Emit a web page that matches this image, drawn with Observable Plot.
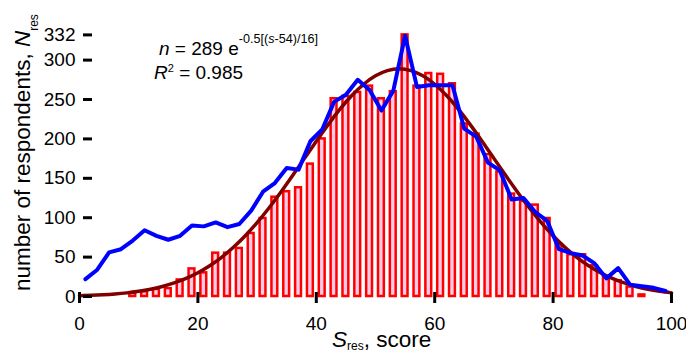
<!DOCTYPE html>
<html>
<head>
<meta charset="utf-8">
<script src="https://cdn.jsdelivr.net/npm/d3@7"></script>
<script src="https://cdn.jsdelivr.net/npm/@observablehq/plot@0.6"></script>
<style>
html, body { margin: 0; padding: 0; background: #fff; }
#chart { width: 686px; height: 350px; }
</style>
</head>
<body>
<div id="chart"></div>
<script>
// Histogram bins (centre score) and counts
const barScores = [9,11,13,15,17,19,21,23,25,27,29,31,33,35,37,39,41,43,45,47,49,51,53,55,57,59,61,63,65,67,69,71,73,75,77,79,81,83,85,87,89,91,93,95];
const barCounts = [4,6,9,10,21,35,30,55,55,61,80,99,126,133,138,168,200,251,254,259,267,251,260,332,267,283,282,270,219,206,180,158,130,121,116,99,66,53,53,39,25,20,12,2];

// Blue line (respondents)
const lineScores = [1,3,5,7,9,11,13,15,17,19,21,23,25,27,29,31,33,35,37,39,41,43,45,47,49,51,53,55,57,59,61,63,65,67,69,71,73,75,77,79,81,83,85,87,89,91,93,95,97,99];
const lineCounts = [22,34,56,60,71,84,77,72,77,90,89,94,88,92,109,133,144,163,161,197,212,247,256,275,262,236,261,331,266,268,268,268,213,203,170,160,123,125,107,96,60,55,52,42,23,36,15,13,11,7];

// Fitted curve, values
const fitScores = [0,2,4,6,8,10,12,14,16,18,20,22,24,26,28,30,32,34,36,38,40,42,44,46,48,50,52,54,56,58,60,62,64,66,68,70,72,74,76,78,80,82,84,86,88,90,92,94,96,98,100];
const fitCounts = [1.0,1.5,2.2,3.2,4.6,6.6,9.2,12.7,17.2,23.0,30.2,39.1,49.8,62.5,77.2,93.8,112.3,132.3,153.5,175.3,197.1,218.1,237.7,255.0,269.4,280.1,286.7,289,286.7,280.1,269.4,255.0,237.7,218.1,197.1,175.3,153.5,132.3,112.3,93.8,77.2,62.5,49.8,39.1,30.2,23.0,17.2,12.7,9.2,6.6,4.6];

const xTicks = [0,20,40,60,80,100];
const yTicks = [0,50,100,150,200,250,300,332];

const bars = barScores.map((s, i) => ({s, n: barCounts[i]}));
const resp = lineScores.map((s, i) => ({s, n: lineCounts[i]}));
const fit = fitScores.map((s, i) => ({s, n: fitCounts[i]}));

const FF = "'Liberation Sans', Arial, sans-serif";

const chart = Plot.plot({
  width: 686,
  height: 350,
  marginLeft: 79,
  marginRight: 15,
  marginTop: 34.4,
  marginBottom: 54,
  style: {fontFamily: FF, fontSize: "19px", background: "white", color: "black", overflow: "visible"},
  x: {domain: [0, 100], label: null},
  y: {domain: [0, 332], label: null},
  marks: [
    Plot.rect(bars, {x1: d => d.s - 1, x2: d => d.s + 1, y1: d => 0, y2: "n", insetLeft: 3, insetRight: 3, fill: "#ffcce8", stroke: "#ff0000", strokeWidth: 2.5}),
    Plot.line(fit, {x: "s", y: "n", stroke: "#800000", strokeWidth: 3.5, curve: "natural"}),
    Plot.line(resp, {x: "s", y: "n", stroke: "#0000ff", strokeWidth: 4, strokeLinejoin: "round", strokeLinecap: "round"}),
    Plot.axisY({ticks: yTicks, tickSize: 9, tickPadding: 8, dx: 13, strokeWidth: 3, label: null, fontSize: 19, tickFormat: d => String(d)}),
    Plot.axisX({ticks: xTicks, tickSize: 11, tickPadding: 13, dy: -4, strokeWidth: 3, label: null, fontSize: 19, tickFormat: d => String(d)})
  ]
});
document.getElementById("chart").appendChild(chart);

const svg = d3.select(chart);

function addText(x, y, size, transform) {
  const t = svg.append("text")
    .attr("font-family", FF).attr("font-size", size).attr("fill", "black")
    .attr("text-anchor", "start");
  if (transform) t.attr("transform", transform);
  else t.attr("x", x).attr("y", y);
  return t;
}

// Y axis title
const yt = addText(0, 0, 22.5, "translate(30,291) rotate(-90)");
yt.append("tspan").text("number of respondents, ");
yt.append("tspan").attr("font-style", "italic").text("N");
yt.append("tspan").attr("font-size", 12).attr("dy", 8).text("res");

// X axis title
const xt = addText(332, 346.5, 22.5);
xt.append("tspan").attr("font-style", "italic").text("S");
xt.append("tspan").attr("font-size", 12).attr("dy", 3).text("res");
xt.append("tspan").attr("dy", -3).text(", score");

// Fit annotation
const a1 = addText(159, 55, 19);
a1.append("tspan").attr("font-style", "italic").text("n");
a1.append("tspan").text(" = 289 e");
a1.append("tspan").attr("font-size", 12.6).attr("dy", -11.7).text("-0.5[(");
a1.append("tspan").attr("font-size", 12.6).attr("font-style", "italic").text("s");
a1.append("tspan").attr("font-size", 12.6).text("-54)/16]");

const a2 = addText(154, 79, 19);
a2.append("tspan").attr("font-style", "italic").text("R");
a2.append("tspan").attr("font-size", 11).attr("dy", -7.5).text("2");
a2.append("tspan").attr("dy", 7.5).text(" = 0.985");
</script>
</body>
</html>
